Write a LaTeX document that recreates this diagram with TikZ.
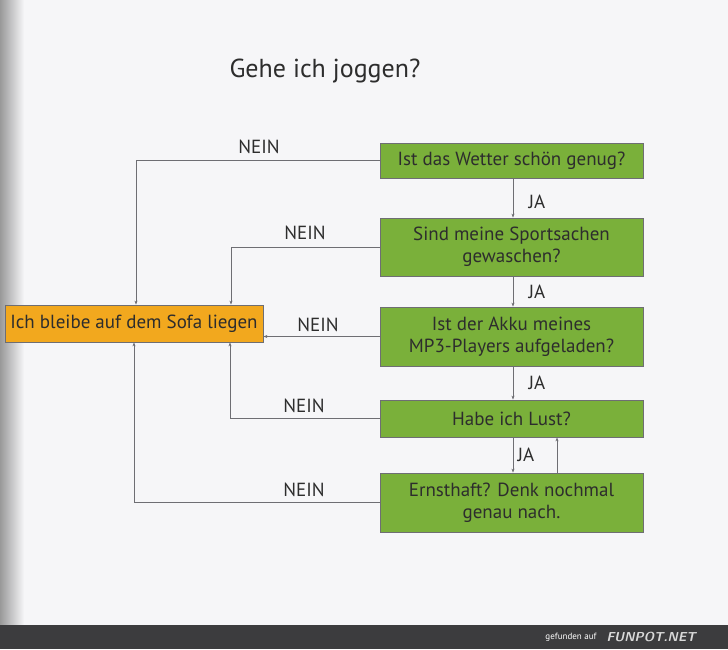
\documentclass[tikz,border=0pt]{standalone}
\usepackage{fontspec}
\setmainfont{PT Sans}
\usetikzlibrary{arrows.meta}
\definecolor{pagebg}{RGB}{246,246,248}
\definecolor{boxgreen}{RGB}{122,176,58}
\definecolor{boxorange}{RGB}{242,168,30}
\definecolor{linegray}{RGB}{110,110,115}
\definecolor{txt}{RGB}{45,45,45}
\definecolor{barbg}{RGB}{60,60,62}
\tikzset{
  qbox/.style={draw=linegray, line width=0.8pt, fill=boxgreen, minimum width=263pt, align=center,
     font=\fontsize{19}{22}\selectfont, text=txt, inner sep=0pt},
  sofabox/.style={draw=linegray, line width=0.8pt, fill=boxorange, minimum width=258pt, minimum height=37pt,
     font=\fontsize{19}{22}\selectfont, text=txt, inner sep=0pt},
  conn/.style={draw=linegray, line width=0.7pt, -{Stealth[length=4pt,width=3pt]}},
  lbl/.style={font=\fontsize{19}{22}\selectfont, text=txt}
}
\begin{document}
\begin{tikzpicture}[x=1pt,y=-1pt]
\fill[pagebg] (0,0) rectangle (728,649);
\shade[left color=black!40, right color=pagebg] (0,0) rectangle (24,625);
\fill[barbg] (0,625) rectangle (728,649);
\node[anchor=east, text=white, font=\fontsize{9}{10}\selectfont] (credit) at (600,637) {gefunden auf};
\node[anchor=west, text=white!85!black, font=\sffamily\bfseries\itshape\fontsize{13}{14}\selectfont] (funpot) at (603,637) {FUNPOT.NET};
\useasboundingbox (0,0) rectangle (728,649);

\node[font=\fontsize{26}{30}\selectfont, text=txt] (title) at (325,71) {Gehe ich joggen?};

\node[qbox, minimum height=35pt] (q1) at (511.5,160.5) {Ist das Wetter schön genug?};
\node[qbox, minimum height=58pt] (q2) at (511.5,247) {Sind meine Sportsachen\\gewaschen?};
\node[qbox, minimum height=59pt] (q3) at (511.5,336.5) {Ist der Akku meines\\MP3-Players aufgeladen?};
\node[qbox, minimum height=37pt] (q4) at (511.5,418.5) {Habe ich Lust?};
\node[qbox, minimum height=59pt] (q5) at (511.5,502.5) {Ernsthaft? Denk nochmal\\genau nach.};
\node[sofabox] (sofa) at (134,323.5) {Ich bleibe auf dem Sofa liegen};

% JA connectors
\draw[conn] (q1.south -| 513,0) -- (q2.north -| 513,0);
\draw[conn] (q2.south -| 513,0) -- (q3.north -| 513,0);
\draw[conn] (q3.south -| 513,0) -- (q4.north -| 513,0);
\draw[conn] (q4.south -| 513,0) -- (q5.north -| 513,0);
\draw[conn] (q5.north -| 557,0) -- (q4.south -| 557,0);
\node[lbl] (ja1) at (537,202) {JA};
\node[lbl] (ja2) at (537,292) {JA};
\node[lbl] (ja3) at (537,383) {JA};
\node[lbl] (ja4) at (526,455) {JA};

% NEIN connectors
\draw[conn] (q1.west) -- (136,160.5) -- (sofa.north -| 136,0);
\draw[conn] (q2.west) -- (231,247) -- (sofa.north -| 231,0);
\draw[conn] (q3.west) -- (q3.west -| sofa.east);
\draw[conn] (q4.west) -- (230,418.5) -- (sofa.south -| 230,0);
\draw[conn] (q5.west) -- (134,502.5) -- (sofa.south -| 134,0);
\node[lbl] (n1) at (259,147) {NEIN};
\node[lbl] (n2) at (305,233) {NEIN};
\node[lbl] (n3) at (318,325) {NEIN};
\node[lbl] (n4) at (304,406) {NEIN};
\node[lbl] (n5) at (304,490) {NEIN};
\end{tikzpicture}
\end{document}
